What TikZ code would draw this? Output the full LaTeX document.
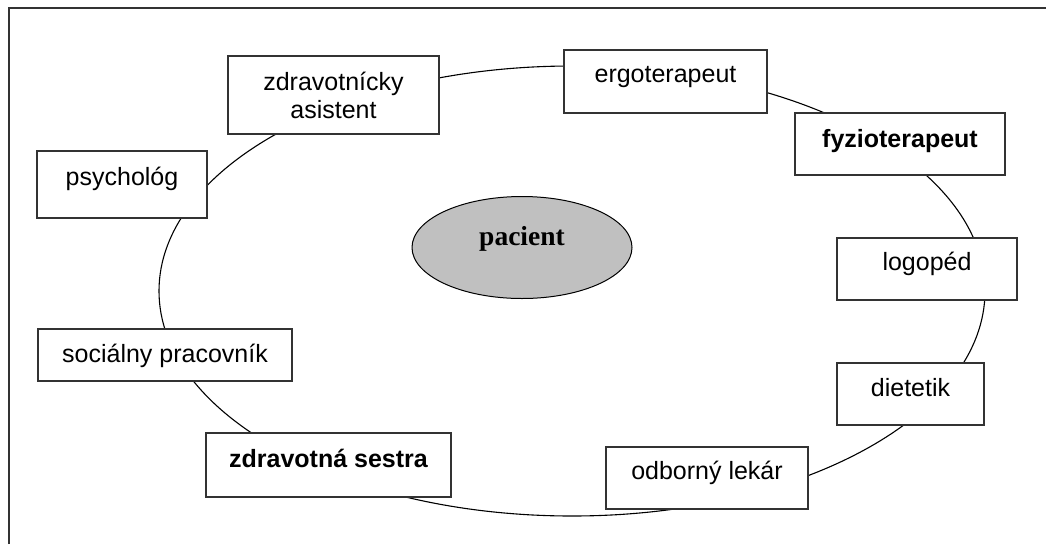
\documentclass[tikz,border=0pt]{standalone}
\usepackage{fontspec}
\setmainfont{Liberation Sans}
\newfontfamily\timesfont{Liberation Serif}
\usetikzlibrary{shapes.geometric}
\definecolor{framegray}{HTML}{333333}
\definecolor{patgray}{HTML}{C0C0C0}
\tikzset{
  box/.style={draw=framegray, line width=1.3pt, fill=white, inner sep=0pt,
    font=\fontsize{25}{28}\selectfont, align=center},
  ring/.style={draw=black, line width=1.1pt},
}
\begin{document}
\begin{tikzpicture}[x=1pt,y=-1pt]
\useasboundingbox (0,0) rectangle (1046,544);
% outer frame (only top and left edges visible)
\draw[framegray, line width=1.5pt] (9,544) -- (9,8) -- (1046,8);
% ring
\draw[ring] (572,291) ellipse [x radius=413, y radius=225];
% patient
\node[ellipse, draw=black, line width=1pt, fill=patgray, minimum width=220pt, minimum height=102pt,
  inner sep=0pt, text height=10pt, text depth=15pt, font=\timesfont\bfseries\fontsize{27.5}{30}\selectfont]
  (pac) at (522,247.5) {pacient};
% boxes
\node[box, minimum width=211pt, minimum height=78pt] (zas) at (333.5,95) {zdravotnícky\\asistent};
\node[box, minimum width=170pt, minimum height=67pt, text height=34pt, text depth=33pt] (psy) at (122,184.5) {psychológ};
\node[box, minimum width=203pt, minimum height=63pt, text height=32pt, text depth=31pt] (erg) at (665.5,81.5) {ergoterapeut};
\node[box, minimum width=210pt, minimum height=62pt, text height=34pt, text depth=28pt, font=\bfseries\fontsize{25}{28}\selectfont] (fyz) at (900,144) {fyzioterapeut};
\node[box, minimum width=180pt, minimum height=62pt, text height=32pt, text depth=30pt] (log) at (927,269) {logopéd};
\node[box, minimum width=147pt, minimum height=62pt, text height=33pt, text depth=29pt] (die) at (910.5,394) {dietetik};
\node[box, minimum width=202pt, minimum height=62pt, text height=32pt, text depth=30pt] (odb) at (707,478) {odborný lekár};
\node[box, minimum width=245pt, minimum height=64pt, text height=34pt, text depth=30pt, font=\bfseries\fontsize{25}{28}\selectfont] (zse) at (328.5,465) {zdravotná sestra};
\node[box, minimum width=254pt, minimum height=52pt, text height=33pt, text depth=19pt] (soc) at (165,355) {sociálny pracovník};
\end{tikzpicture}
\end{document}
